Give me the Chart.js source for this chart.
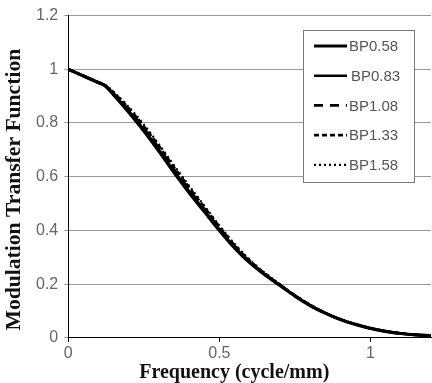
<!DOCTYPE html>
<html>
<head>
<meta charset="utf-8">
<script src="https://cdn.jsdelivr.net/npm/chart.js@4.4.1/dist/chart.umd.min.js"></script>
<style>
html,body{margin:0;padding:0;background:#fff;}
#wrap{width:432px;height:383px;}
</style>
</head>
<body>
<div id="wrap"><canvas id="c" width="432" height="383"></canvas></div>
<script>
const freq = [0, 0.05, 0.1, 0.12, 0.15, 0.2, 0.25, 0.3, 0.35, 0.4, 0.45, 0.5, 0.55, 0.6, 0.65, 0.7, 0.75, 0.8, 0.85, 0.9, 0.95, 1.0, 1.05, 1.1, 1.15, 1.2];
const bp058 = [1, 0.975, 0.95, 0.94, 0.905, 0.84, 0.77, 0.695, 0.615, 0.54, 0.47, 0.4, 0.335, 0.28, 0.235, 0.195, 0.155, 0.12, 0.092, 0.068, 0.05, 0.035, 0.024, 0.016, 0.011, 0.008];
const bp083 = [1, 0.975, 0.95, 0.94, 0.907, 0.845, 0.776, 0.701, 0.621, 0.546, 0.475, 0.404, 0.338, 0.282, 0.236, 0.196, 0.156, 0.121, 0.092, 0.068, 0.05, 0.035, 0.024, 0.016, 0.011, 0.008];
const bp108 = [1, 0.976, 0.951, 0.941, 0.91, 0.85, 0.782, 0.708, 0.628, 0.553, 0.481, 0.409, 0.342, 0.285, 0.238, 0.197, 0.157, 0.122, 0.093, 0.069, 0.05, 0.035, 0.024, 0.016, 0.011, 0.008];
const bp133 = [1, 0.976, 0.952, 0.942, 0.913, 0.855, 0.788, 0.714, 0.635, 0.56, 0.487, 0.414, 0.346, 0.288, 0.24, 0.198, 0.158, 0.123, 0.093, 0.069, 0.051, 0.036, 0.025, 0.017, 0.011, 0.008];
const bp158 = [1, 0.977, 0.953, 0.943, 0.916, 0.86, 0.794, 0.72, 0.642, 0.566, 0.492, 0.418, 0.35, 0.291, 0.242, 0.2, 0.159, 0.124, 0.094, 0.07, 0.051, 0.036, 0.025, 0.017, 0.011, 0.008];
const seriesNames = ['BP0.58', 'BP0.83', 'BP1.08', 'BP1.33', 'BP1.58'];
const xTicks = [0, 0.5, 1];
const yTicks = [0, 0.2, 0.4, 0.6, 0.8, 1, 1.2];
const xTitle = 'Frequency (cycle/mm)';
const yTitle = 'Modulation Transfer Function';

const allSeries = [bp058, bp083, bp108, bp133, bp158];
const styles = [
  {w: 3.2, dash: []},
  {w: 2.6, dash: []},
  {w: 2.6, dash: [9, 7]},
  {w: 2.6, dash: [5, 3]},
  {w: 2.2, dash: [2, 3]}
];
const datasets = allSeries.map((s, i) => ({
  label: seriesNames[i],
  data: freq.map((f, j) => ({x: f, y: s[j]})),
  borderColor: '#000',
  backgroundColor: '#000',
  borderWidth: styles[i].w,
  borderDash: styles[i].dash,
  pointRadius: 0,
  tension: 0.3,
  cubicInterpolationMode: 'monotone',
  fill: false
}));

const legendBox = {
  id: 'legendBox',
  afterDraw(chart) {
    const ctx = chart.ctx;
    const x0 = 303, y0 = 30, w = 111, h = 152;
    ctx.save();
    ctx.fillStyle = '#fff';
    ctx.fillRect(x0, y0, w, h);
    ctx.strokeStyle = '#777';
    ctx.lineWidth = 1;
    ctx.strokeRect(x0 + 0.5, y0 + 0.5, w, h);
    ctx.font = '15px "Liberation Sans", Arial, sans-serif';
    ctx.textBaseline = 'middle';
    ctx.fillStyle = '#555';
    chart.data.datasets.forEach((ds, i) => {
      const y = 46 + i * 29.7;
      ctx.beginPath();
      ctx.strokeStyle = '#000';
      ctx.lineWidth = ds.borderWidth;
      ctx.setLineDash(ds.borderDash);
      ctx.moveTo(314, y);
      ctx.lineTo(347, y);
      ctx.stroke();
      ctx.setLineDash([]);
      ctx.fillText(ds.label, i === 1 ? 351 : 349, y + 1);
    });
    ctx.restore();
  }
};

const axisTitles = {
  id: 'axisTitles',
  afterDraw(chart) {
    const ctx = chart.ctx;
    const a = chart.chartArea;
    ctx.save();
    ctx.fillStyle = '#111';
    ctx.font = 'bold 20px "Liberation Serif", "Times New Roman", serif';
    ctx.textAlign = 'center';
    ctx.textBaseline = 'middle';
    ctx.fillText(xTitle, a.left + 166, a.bottom + 35);
    ctx.translate(15, a.top + 174);
    ctx.rotate(-Math.PI / 2);
    ctx.scale(1.08, 1);
    ctx.fillText(yTitle, 0, 0);
    ctx.restore();
  }
};

new Chart(document.getElementById('c'), {
  type: 'line',
  data: {datasets},
  options: {
    responsive: false,
    devicePixelRatio: 1,
    animation: false,
    layout: {padding: {left: 30, right: 1, top: 8, bottom: 18}},
    plugins: {legend: {display: false}, tooltip: {enabled: false}},
    scales: {
      x: {
        type: 'linear',
        min: 0, max: 1.2,
        afterBuildTicks: (s) => { s.ticks = xTicks.map(v => ({value: v})); },
        grid: {drawOnChartArea: false, drawTicks: true, tickLength: 4, color: '#000'},
        border: {color: '#000', width: 1},
        ticks: {color: '#666', font: {family: '"Liberation Sans", Arial, sans-serif', size: 16}, padding: 2, maxRotation: 0,
          callback: (v) => String(v)},
        title: {display: false}
      },
      y: {
        type: 'linear',
        min: 0, max: 1.2,
        afterBuildTicks: (s) => { s.ticks = yTicks.map(v => ({value: v})); },
        grid: {color: '#9a9a9a', lineWidth: 1, tickLength: 4},
        border: {color: '#000', width: 1},
        ticks: {color: '#666', font: {family: '"Liberation Sans", Arial, sans-serif', size: 16}, padding: 6,
          callback: (v) => String(v)},
        title: {display: false}
      }
    }
  },
  plugins: [legendBox, axisTitles]
});
</script>
</body>
</html>
